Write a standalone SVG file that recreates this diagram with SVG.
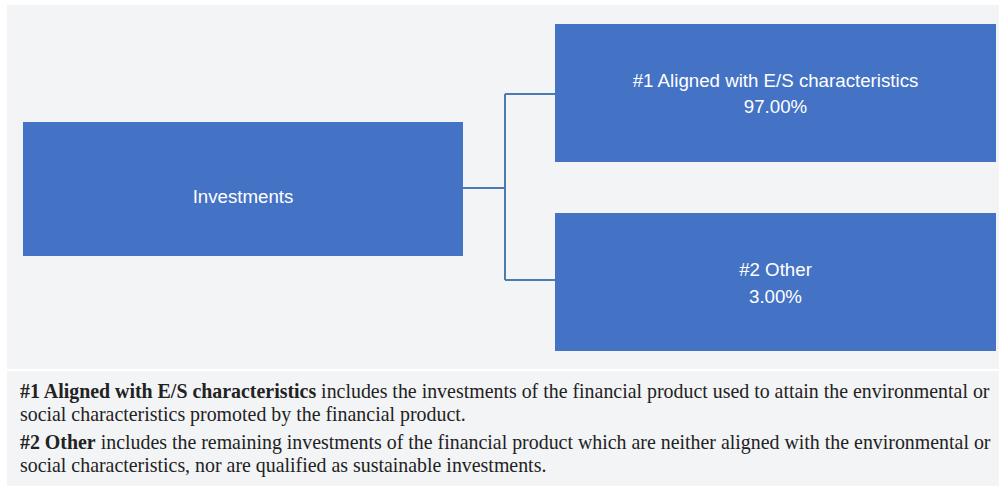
<svg xmlns="http://www.w3.org/2000/svg" width="999" height="488" viewBox="0 0 999 488">
<style>
.panel{fill:#f3f4f6}
.box{fill:#4472c4}
.lbl{font-family:"Liberation Sans",Arial,sans-serif;font-size:18.7px;fill:#ffffff;text-anchor:middle}
.conn{fill:none;stroke:#4d7bb0;stroke-width:2}
.note{font-family:"Liberation Serif","Times New Roman",serif;font-size:19.9px;fill:#222222}
</style>
<rect x="0" y="0" width="999" height="488" fill="#ffffff"/>
<rect class="panel" x="7" y="5" width="992" height="364"/>
<rect class="panel" x="7" y="371" width="992" height="115"/>
<g id="connectors">
<path class="conn" d="M463 188 H505 M505 94 V280 M505 94 H555 M505 280 H555"/>
</g>
<g id="investments">
<rect class="box" x="23" y="122" width="440" height="134"/>
<text class="lbl" x="243" y="203">Investments</text>
</g>
<g id="aligned">
<rect class="box" x="555" y="24" width="441" height="138"/>
<text class="lbl" x="775.5" y="87">#1 Aligned with E/S characteristics</text>
<text class="lbl" x="775.5" y="113">97.00%</text>
</g>
<g id="other">
<rect class="box" x="555" y="213" width="441" height="138"/>
<text class="lbl" x="775.5" y="276">#2 Other</text>
<text class="lbl" x="775.5" y="303">3.00%</text>
</g>
<g id="legend">
<text class="note" x="20" y="398"><tspan font-weight="bold">#1 Aligned with E/S characteristics</tspan> includes the investments of the financial product used to attain the environmental or</text>
<text class="note" x="20" y="421">social characteristics promoted by the financial product.</text>
<text class="note" x="20" y="449"><tspan font-weight="bold">#2 Other</tspan> includes the remaining investments of the financial product which are neither aligned with the environmental or</text>
<text class="note" x="20" y="472">social characteristics, nor are qualified as sustainable investments.</text>
</g>
</svg>
